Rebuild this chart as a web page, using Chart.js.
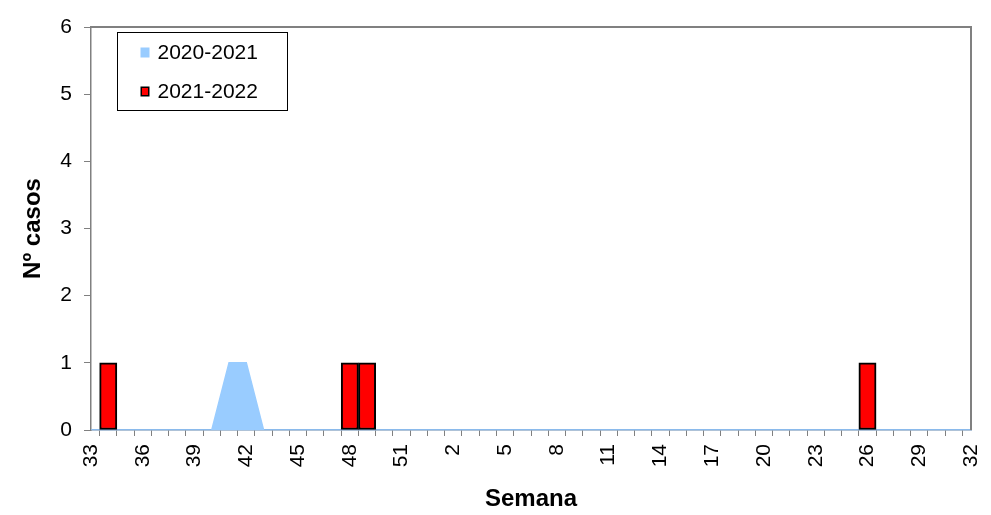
<!DOCTYPE html>
<html>
<head>
<meta charset="utf-8">
<script src="https://cdn.jsdelivr.net/npm/chart.js@4.4.1/dist/chart.umd.min.js"></script>
<style>
  html, body { margin: 0; padding: 0; background: #ffffff; }
  #wrap { width: 991px; height: 515px; }
</style>
</head>
<body>
<div id="wrap"><canvas id="c" width="991" height="515"></canvas></div>
<script>
// Week labels (season runs week 33 to week 32 of next year)
const weeks = ['33','34','35','36','37','38','39','40','41','42','43','44','45','46','47','48','49','50','51','52',
               '1','2','3','4','5','6','7','8','9','10','11','12','13','14','15','16','17','18','19','20',
               '21','22','23','24','25','26','27','28','29','30','31','32'];
// Series 2020-2021 (area)
const season2020_2021 = [0,0,0,0,0,0,0,0,1,1,0,0,0,0,0,0,0,0,0,0,
                         0,0,0,0,0,0,0,0,0,0,0,0,0,0,0,0,0,0,0,0,
                         0,0,0,0,0,0,0,0,0,0,0,0];
// Series 2021-2022 (bars)
const season2021_2022 = [0,1,0,0,0,0,0,0,0,0,0,0,0,0,0,1,1,0,0,0,
                         0,0,0,0,0,0,0,0,0,0,0,0,0,0,0,0,0,0,0,0,
                         0,0,0,0,0,1,0,0,0,0,0,0];
const seriesNames = ['2020-2021', '2021-2022'];
const yTicks = [0,1,2,3,4,5,6];

const FONT = "'Liberation Sans', Arial, sans-serif";

const frameAndLegend = {
  id: 'frameAndLegend',
  afterDraw(chart) {
    const ctx = chart.ctx;
    const a = chart.chartArea;
    ctx.save();
    // top and right frame lines
    ctx.strokeStyle = '#808080';
    ctx.lineWidth = 2;
    ctx.beginPath();
    ctx.moveTo(a.left, a.top);
    ctx.lineTo(a.right, a.top);
    ctx.lineTo(a.right, a.bottom);
    ctx.stroke();

    // legend box
    const lx = a.left + 26.5, ly = a.top + 5.5, lw = 170, lh = 78;
    ctx.fillStyle = '#ffffff';
    ctx.fillRect(lx, ly, lw, lh);
    ctx.strokeStyle = '#000000';
    ctx.lineWidth = 1;
    ctx.strokeRect(lx, ly, lw, lh);

    ctx.font = '21px ' + FONT;
    ctx.textBaseline = 'middle';
    ctx.textAlign = 'left';
    // entry 1
    ctx.fillStyle = '#99CCFF';
    ctx.fillRect(lx + 23, ly + 15, 9, 10);
    ctx.fillStyle = '#000000';
    ctx.fillText(seriesNames[0], lx + 40, ly + 21);
    // entry 2
    ctx.fillStyle = '#000000';
    ctx.fillRect(lx + 23, ly + 54, 9, 10);
    ctx.fillStyle = '#FF0000';
    ctx.fillRect(lx + 24.5, ly + 55.5, 6, 7);
    ctx.fillStyle = '#000000';
    ctx.fillText(seriesNames[1], lx + 40, ly + 60);
    ctx.restore();
  }
};

new Chart(document.getElementById('c'), {
  data: {
    labels: weeks,
    datasets: [
      {
        type: 'bar',
        label: seriesNames[1],
        data: season2021_2022,
        backgroundColor: '#FF0000',
        borderColor: '#000000',
        borderWidth: 2,
        borderSkipped: false,
        barPercentage: 1.0,
        categoryPercentage: 1.0,
        order: 0
      },
      {
        type: 'line',
        label: seriesNames[0],
        data: season2020_2021,
        backgroundColor: '#99CCFF',
        borderColor: '#99CCFF',
        borderWidth: 1.5,
        fill: 'origin',
        tension: 0,
        pointRadius: 0,
        order: 1
      }
    ]
  },
  options: {
    responsive: false,
    animation: false,
    devicePixelRatio: 1,
    layout: { padding: { top: 27, right: 20, left: 0, bottom: 0 } },
    plugins: {
      legend: { display: false },
      tooltip: { enabled: false }
    },
    scales: {
      x: {
        type: 'category',
        offset: false,
        afterFit(scale) { scale.height = 85; scale.paddingRight = 0; scale.paddingLeft = 0; },
        grid: {
          drawOnChartArea: false,
          drawTicks: true,
          tickLength: 6,
          tickColor: '#808080',
          lineWidth: 1
        },
        border: { display: true, color: '#5f86b0', width: 1.5 },
        ticks: {
          autoSkip: false,
          maxRotation: 90,
          minRotation: 90,
          padding: 8,
          color: '#000000',
          font: { family: FONT, size: 21 },
          callback: function(value, index) { return index % 3 === 0 ? this.getLabelForValue(value) : ''; }
        },
        title: {
          display: true,
          text: 'Semana',
          color: '#000000',
          font: { family: FONT, size: 24, weight: 'bold' },
          padding: { top: 0, bottom: 1 }
        }
      },
      y: {
        min: yTicks[0],
        max: yTicks[yTicks.length - 1],
        afterFit(scale) { scale.width = 91; },
        afterBuildTicks(scale) { scale.ticks = yTicks.map(v => ({ value: v })); },
        grid: {
          drawOnChartArea: false,
          drawTicks: true,
          tickLength: 7,
          tickColor: '#808080'
        },
        border: { display: true, color: '#808080', width: 1.5 },
        ticks: {
          padding: 12,
          color: '#000000',
          font: { family: FONT, size: 21 }
        },
        title: {
          display: true,
          text: 'Nº casos',
          color: '#000000',
          font: { family: FONT, size: 24, weight: 'bold' },
          padding: { top: 19, bottom: 0 }
        }
      }
    }
  },
  plugins: [frameAndLegend]
});
</script>
</body>
</html>
